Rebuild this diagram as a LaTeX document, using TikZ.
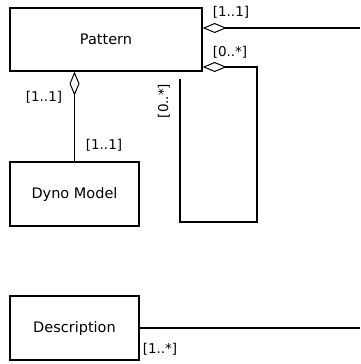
\documentclass[tikz,border=0pt]{standalone}
\usepackage{fontspec}
\setmainfont{DejaVu Sans}
\usetikzlibrary{arrows.meta,calc}

\tikzset{
    umlclass/.style={draw=black,line width=1.3pt,fill=white,font=\fontsize{14.5}{17}\selectfont},
    agg/.style={line width=1.3pt,{Diamond[open,length=24pt,width=10pt,line width=1pt]}-},
    link/.style={line width=1.3pt},
    mult/.style={font=\fontsize{13.5}{16}\selectfont,inner sep=0pt}
}

\begin{document}
\begin{tikzpicture}[x=1pt,y=-1pt]
        \useasboundingbox (0,0) rectangle (360,364);
        \node[umlclass,minimum width=192pt,minimum height=63pt] (pattern) at (106,39.5){Pattern};
        \node[umlclass,minimum width=129pt,minimum height=64pt] (dyno) at (74.5,194){Dyno Model};
        \node[umlclass,minimum width=129pt,minimum height=64pt] (desc) at (74.5,328){Description};
        \coordinate (out1) at (360,28);
        \coordinate (out2) at (360,328);
        \coordinate (loopA) at (257,67);
        \coordinate (loopB) at (257,222);
        \coordinate (loopC) at (180,222);
        \coordinate (loopD) at (180,79);
        \draw[agg] (pattern.east |- out1) -- (out1);
        \draw[agg] (pattern.east |- loopA) -- (loopA) -- (loopB) -- (loopC) -- (loopD);
        \draw[agg] (pattern.south -| dyno.north) -- (dyno.north);
        \draw[link] (desc.east) -- (out2);
        \node[mult] (m0) at (231,12){[1..1]};
        \node[mult] (m1) at (230,52){[0..*]};
        \node[mult] (m2) at (44,97){[1..1]};
        \node[mult] (m3) at (104,145){[1..1]};
        \node[mult,rotate=90] (m4) at (164,101){[0..*]};
        \node[mult] (m5) at (160,349){[1..*]};
    \end{tikzpicture}
\end{document}
